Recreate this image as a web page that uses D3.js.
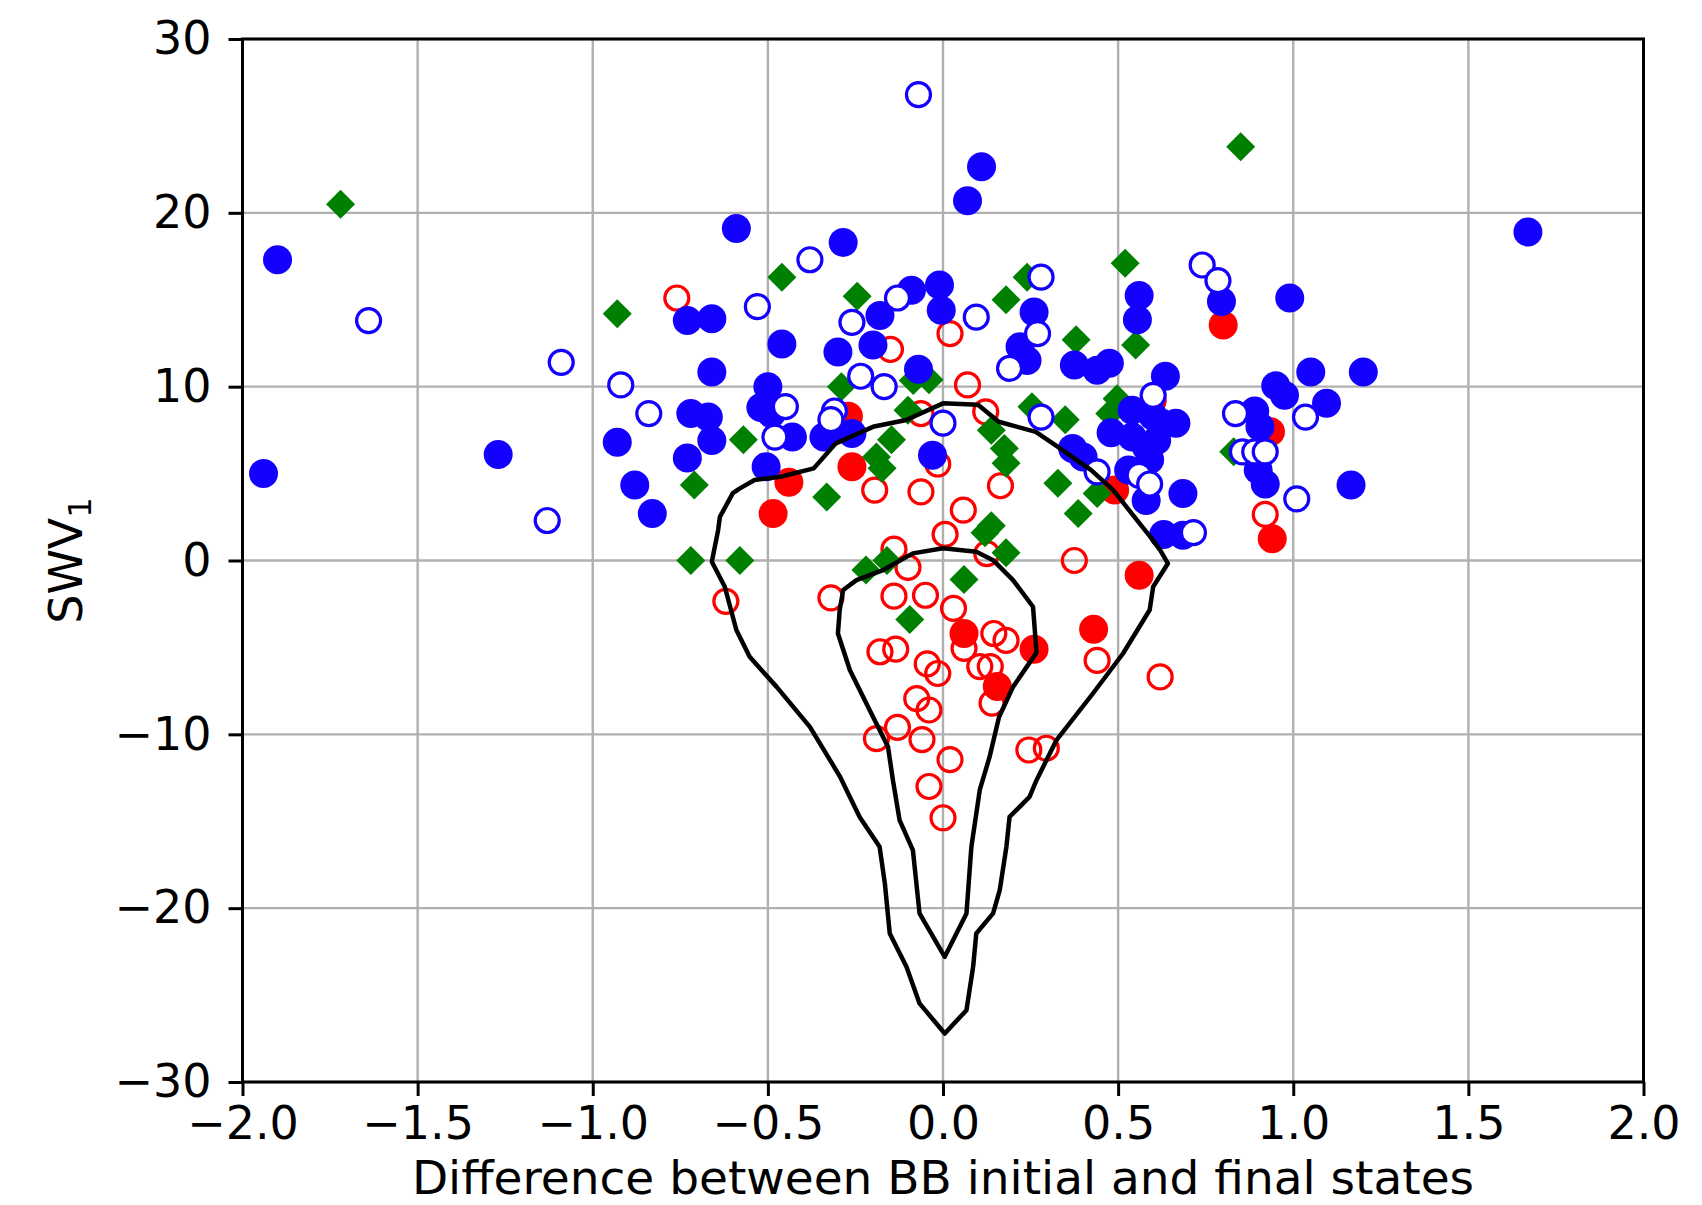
<!DOCTYPE html>
<html>
<head>
<meta charset="utf-8">
<script src="https://cdn.jsdelivr.net/npm/d3@7"></script>
<style>
  html, body { margin: 0; padding: 0; background: #fff; }
  svg { display: block; }
  text { font-family: "DejaVu Sans", sans-serif; fill: #000; }
</style>
</head>
<body>
<svg id="chart" width="1702" height="1205"></svg>
<script>
// x: difference between BB initial and final states, y: SWV1
const blueFilled = [
  [-1.94,5.0],[-1.90,17.3],[-1.27,6.1],[-0.93,6.8],[-0.88,4.35],[-0.83,2.7],
  [-0.73,13.8],[-0.66,13.9],[-0.66,10.85],[-0.72,8.45],[-0.67,8.25],[-0.66,6.9],[-0.73,5.9],
  [-0.59,19.1],[-0.50,10.0],[-0.52,8.8],[-0.49,8.45],[-0.43,7.1],[-0.505,5.4],
  [-0.34,7.1],[-0.26,7.3],[-0.32,7.4],
  [-0.46,12.45],[-0.30,12.0],[-0.20,12.4],[-0.18,14.1],[-0.285,18.3],
  [-0.09,15.55],[-0.01,15.85],[-0.005,14.4],[-0.07,11.0],[-0.03,6.05],
  [0.07,20.7],[0.11,22.65],
  [0.26,14.3],[0.22,12.3],[0.24,11.5],
  [0.375,11.25],[0.44,10.95],[0.475,11.35],[0.56,15.25],[0.555,13.85],[0.635,10.6],
  [0.37,6.45],[0.40,5.95],
  [0.48,7.35],[0.54,8.65],[0.60,8.3],[0.625,7.9],[0.665,7.9],[0.54,7.1],[0.58,6.55],[0.61,6.9],
  [0.53,5.2],[0.59,5.8],[0.58,3.45],[0.685,3.85],[0.63,1.5],[0.685,1.45],
  [0.795,14.9],[0.99,15.1],[1.05,10.85],[1.20,10.85],[0.95,10.05],[0.975,9.5],[1.095,9.05],
  [0.89,8.6],[0.905,7.7],[0.90,5.2],[0.92,4.4],[1.165,4.35],[1.67,18.9]
];
const blueHollow = [
  [-1.64,13.8],[-1.09,11.4],[-0.92,10.1],[-0.84,8.45],[-1.13,2.3],
  [-0.53,14.6],[-0.38,17.3],[-0.26,13.7],[-0.13,15.1],[-0.235,10.6],[-0.168,10.0],
  [-0.45,8.85],[-0.48,7.1],[-0.31,8.6],[-0.32,8.1],[-0.07,26.8],[0.095,14.0],[0.28,16.3],[0.27,13.05],[0.19,11.05],
  [0.0,7.9],[0.28,8.25],[0.44,5.1],[0.56,4.9],[0.59,4.4],[0.60,9.5],[0.74,17.0],[0.785,16.1],
  [0.835,8.45],[0.855,6.25],[0.89,6.25],[0.92,6.25],[1.035,8.25],[1.01,3.55],[0.715,1.6]
];
const redFilled = [
  [-0.27,8.3],[-0.26,5.4],[-0.44,4.5],[-0.485,2.7],[0.80,13.55],[0.935,7.4],[0.94,1.25],
  [0.56,-0.85],[0.43,-3.95],[0.06,-4.2],[0.155,-7.25],[0.26,-5.1],[0.49,4.05]
];
const redHollow = [
  [-0.76,15.1],[-0.15,12.15],[0.02,13.05],[0.07,10.1],[-0.063,8.45],[0.122,8.55],[-0.015,5.55],
  [-0.195,4.05],[-0.063,3.95],[0.164,4.3],[0.058,2.9],[0.006,1.5],[-0.14,0.65],[-0.10,-0.4],[0.125,0.4],
  [0.375,0.0],[-0.62,-2.35],[-0.32,-2.15],[-0.14,-2.05],[-0.05,-2.0],[0.03,-2.75],
  [0.145,-4.2],[0.18,-4.6],[-0.18,-5.25],[-0.135,-5.1],[0.06,-5.05],[-0.045,-5.95],[-0.015,-6.5],
  [0.105,-6.1],[0.135,-6.1],[0.14,-8.2],[-0.075,-7.95],[-0.04,-8.6],[-0.13,-9.6],[-0.19,-10.25],
  [-0.06,-10.3],[0.02,-11.45],[-0.04,-13.0],[0.0,-14.8],[0.44,-5.75],[0.62,-6.7],[0.245,-10.9],[0.295,-10.8],
  [0.92,2.65],[0.60,9.2]
];
const greenDiamond = [
  [-1.72,20.5],[-0.93,14.2],[-0.46,16.3],[-0.245,15.2],[0.24,16.3],[0.18,15.0],[0.52,17.1],[0.85,23.8],
  [0.38,12.7],[0.55,12.4],[-0.29,10.0],[-0.085,10.35],[-0.04,10.4],[0.497,9.3],[0.476,8.45],[0.254,8.85],
  [0.349,8.1],[-0.10,8.65],[0.138,7.5],[0.175,6.45],[0.18,5.6],[-0.147,6.95],[-0.19,5.95],[-0.174,5.3],
  [-0.57,6.95],[-0.71,4.35],[-0.332,3.65],[0.328,4.45],[0.44,3.85],[0.386,2.7],[0.138,2.0],[0.12,1.6],[0.18,0.45],
  [-0.72,0.0],[-0.58,0.0],[-0.22,-0.55],[-0.16,0.0],[0.06,-1.1],[-0.095,-3.4],[0.83,6.25]
];
// density contour levels (closed paths)
const contourOuter = [
  [0.0,9.04],[0.1,8.96],[0.159,7.98],[0.265,7.4],[0.328,6.54],[0.423,5.2],[0.486,4.05],
  [0.539,2.7],[0.592,1.36],[0.62,0.6],[0.642,-0.17],[0.60,-1.51],[0.59,-2.85],[0.514,-5.35],[0.428,-7.65],
  [0.324,-10.33],[0.267,-12.64],[0.247,-13.6],[0.19,-14.75],[0.181,-16.47],[0.162,-18.96],
  [0.143,-20.3],[0.095,-21.46],[0.086,-23.38],[0.067,-25.87],[0.005,-27.21],[-0.067,-25.48],
  [-0.104,-23.38],[-0.152,-21.46],[-0.166,-18.58],[-0.181,-16.47],[-0.238,-14.75],[-0.295,-12.4],
  [-0.38,-9.57],[-0.475,-7.27],[-0.552,-5.54],[-0.59,-4.0],[-0.623,-1.51],[-0.66,-0.07],
  [-0.642,1.75],[-0.637,2.51],[-0.60,3.88],[-0.58,4.15],[-0.538,4.63],[-0.464,4.82],[-0.369,5.3],
  [-0.306,6.74],[-0.2,7.69],[-0.105,8.08],[0.0,9.04]
];
const contourInner = [
  [0.0,0.7],[0.095,0.5],[0.143,0.02],[0.2,-1.13],[0.257,-2.66],[0.267,-5.3],[0.2,-7.27],
  [0.16,-9.0],[0.133,-11.3],[0.105,-13.2],[0.081,-16.47],[0.067,-20.3],[0.005,-22.8],
  [-0.067,-20.3],[-0.086,-16.66],[-0.124,-14.94],[-0.143,-12.64],[-0.157,-10.72],[-0.2,-8.99],
  [-0.266,-6.3],[-0.3,-4.2],[-0.295,-2.85],[-0.285,-1.7],[-0.247,-1.13],[-0.171,-0.55],
  [-0.086,0.41],[0.0,0.7]
];
const xTicks = [-2.0,-1.5,-1.0,-0.5,0.0,0.5,1.0,1.5,2.0];
const yTicks = [-30,-20,-10,0,10,20,30];

const W = 1702, H = 1205;
const plotL = 242.5, plotR = 1643.5, plotT = 39, plotB = 1082;
const fontSize = 46;

const svg = d3.select("#chart");
svg.append("rect").attr("width", W).attr("height", H).attr("fill", "#fff");

const x = d3.scaleLinear().domain([-2, 2]).range([plotL, plotR]);
const y = d3.scaleLinear().domain([-30, 30]).range([plotB, plotT]);

const minus = s => s.replace("-", "\u2212");

// grid
const grid = svg.append("g").attr("stroke", "#b0b0b0").attr("stroke-width", 2.4);
grid.selectAll("line.gx").data(xTicks).join("line")
  .attr("x1", d => x(d)).attr("x2", d => x(d)).attr("y1", plotT).attr("y2", plotB);
grid.selectAll("line.gy").data(yTicks).join("line")
  .attr("x1", plotL).attr("x2", plotR).attr("y1", d => y(d)).attr("y2", d => y(d));

// markers
const plot = svg.append("g");
const BLUE = "#1400ff", RED = "#ff0000", GREEN = "#008000";

plot.append("g").selectAll("circle").data(redHollow).join("circle")
  .attr("cx", d => x(d[0])).attr("cy", d => y(d[1])).attr("r", 12)
  .attr("fill", "none").attr("stroke", RED).attr("stroke-width", 3.2);
plot.append("g").selectAll("circle").data(redFilled).join("circle")
  .attr("cx", d => x(d[0])).attr("cy", d => y(d[1])).attr("r", 14.5)
  .attr("fill", RED);
plot.append("g").selectAll("path").data(greenDiamond).join("path")
  .attr("transform", d => `translate(${x(d[0])},${y(d[1])})`)
  .attr("d", "M0,-14.5L14.5,0L0,14.5L-14.5,0Z")
  .attr("fill", GREEN);
plot.append("g").selectAll("circle").data(blueFilled).join("circle")
  .attr("cx", d => x(d[0])).attr("cy", d => y(d[1])).attr("r", 14.5)
  .attr("fill", BLUE);
plot.append("g").selectAll("circle").data(blueHollow).join("circle")
  .attr("cx", d => x(d[0])).attr("cy", d => y(d[1])).attr("r", 12)
  .attr("fill", "#fff").attr("stroke", BLUE).attr("stroke-width", 3.2);

// contours
const line = d3.line().x(d => x(d[0])).y(d => y(d[1]));
svg.append("g").selectAll("path").data([contourOuter, contourInner]).join("path")
  .attr("d", d => line(d) + "Z")
  .attr("fill", "none").attr("stroke", "#000").attr("stroke-width", 4.5)
  .attr("stroke-linejoin", "round");

// axes
const xAxis = d3.axisBottom(x).tickValues(xTicks).tickSize(14).tickPadding(10)
  .tickFormat(d => minus(d3.format(".1f")(d)));
const yAxis = d3.axisLeft(y).tickValues(yTicks).tickSize(14).tickPadding(17)
  .tickFormat(d => minus(String(d)));

const gx = svg.append("g").attr("transform", `translate(0,${plotB})`).call(xAxis);
const gy = svg.append("g").attr("transform", `translate(${plotL},0)`).call(yAxis);
[gx, gy].forEach(g => {
  g.select(".domain").remove();
  g.selectAll(".tick line").attr("stroke", "#000").attr("stroke-width", 3);
  g.selectAll(".tick text").attr("font-size", fontSize).attr("font-family", "DejaVu Sans");
});

// frame
svg.append("rect").attr("x", plotL).attr("y", plotT)
  .attr("width", plotR - plotL).attr("height", plotB - plotT)
  .attr("fill", "none").attr("stroke", "#000").attr("stroke-width", 3);

// axis labels
svg.append("text").attr("x", (plotL + plotR) / 2).attr("y", 1194)
  .attr("text-anchor", "middle").attr("font-size", 47)
  .text("Difference between BB initial and final states");

const yl = svg.append("text")
  .attr("transform", `translate(82,${(plotT + plotB) / 2}) rotate(-90)`)
  .attr("text-anchor", "middle").attr("font-size", fontSize);
yl.append("tspan").text("SWV");
yl.append("tspan").attr("font-size", fontSize * 0.7).attr("dy", 9).text("1");
</script>
</body>
</html>
